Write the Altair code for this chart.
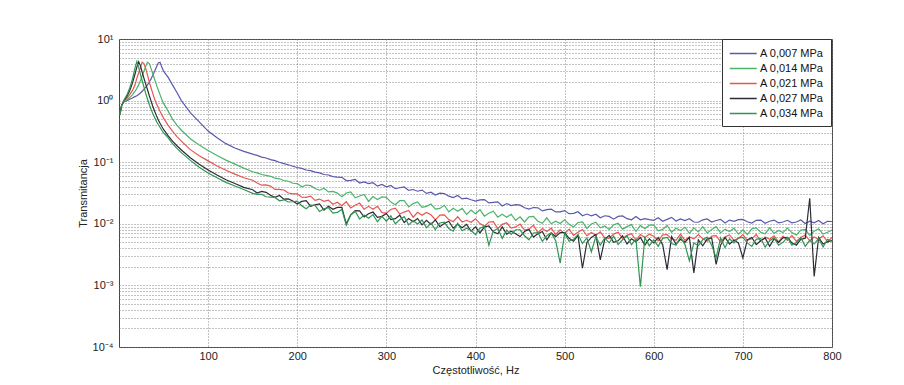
import altair as alt
import pandas as pd

# ---------------- data ----------------
LOW_HZ = [1, 3, 6, 9, 12, 15, 18,
          20, 22, 24, 26, 28, 30, 32, 34, 36, 38, 40, 42, 44, 46, 48,
          50, 55, 60, 65, 70,
          80, 90, 100, 110, 120, 130, 140]
TAIL_HZ = list(range(150, 801, 5))
HZ = LOW_HZ + TAIL_HZ

SERIES = ["A 0,007 MPa", "A 0,014 MPa", "A 0,021 MPa", "A 0,027 MPa", "A 0,034 MPa"]
COLORS = ["#5b58ad", "#4cb36a", "#e6564e", "#2c2c38", "#2f9652"]

T_007 = [0.62, 0.85, 0.97, 1.0, 1.05, 1.1, 1.16,
         1.2, 1.26, 1.33, 1.42, 1.52, 1.65, 1.8, 2.0, 2.25, 2.6, 3.0, 3.5, 4.1, 4.2, 3.5,
         3.0, 2.4, 1.8, 1.35, 1.0,
         0.64, 0.45, 0.32, 0.25, 0.2, 0.17, 0.15,
         0.135, 0.129, 0.121, 0.117, 0.110, 0.106, 0.100, 0.095, 0.091, 0.086,
         0.082, 0.0795, 0.0748, 0.0728, 0.0690, 0.0670, 0.0632, 0.0620, 0.0582, 0.0571,
         0.0567, 0.0504, 0.0506, 0.0527, 0.0460, 0.0480, 0.0449, 0.0464, 0.0408, 0.0435,
         0.0398, 0.0420, 0.0371, 0.0385, 0.0397, 0.0348, 0.0360, 0.0338, 0.0353, 0.0312,
         0.0326, 0.0293, 0.0315, 0.0310, 0.0281, 0.0266, 0.0288, 0.0254, 0.0261, 0.0246,
         0.0233, 0.0244, 0.0247, 0.0218, 0.0223, 0.0227, 0.0195, 0.0213, 0.0198, 0.0205,
         0.0201, 0.0182, 0.0173, 0.0184, 0.0182, 0.0162, 0.0170, 0.0173, 0.0156, 0.0156,
         0.0164, 0.0146, 0.0148, 0.0157, 0.0135, 0.0144, 0.0135, 0.0143, 0.0125, 0.0135,
         0.0132, 0.0119, 0.0132, 0.0134, 0.0121, 0.0116, 0.0131, 0.0116, 0.0121, 0.0117,
         0.0114, 0.0125, 0.0110, 0.0118, 0.0127, 0.0111, 0.0120, 0.0113, 0.0121, 0.0107,
         0.0106, 0.0116, 0.0120, 0.0107, 0.0113, 0.0118, 0.0103, 0.0115, 0.0110, 0.0117,
         0.0118, 0.0108, 0.0103, 0.0114, 0.0115, 0.0102, 0.0110, 0.0115, 0.0104, 0.0107,
         0.0114, 0.0104, 0.0107, 0.0115, 0.0101, 0.0110, 0.0104, 0.0113, 0.0100, 0.0110,
         0.0109]

T_014 = [0.6, 0.84, 0.97, 1.03, 1.12, 1.24, 1.42,
         1.58, 1.8, 2.1, 2.5, 3.0, 3.6, 4.2, 4.0, 3.3, 2.7, 2.2, 1.8, 1.5, 1.25, 1.05,
         0.9, 0.68, 0.5, 0.4, 0.33,
         0.24, 0.19, 0.155, 0.128, 0.108, 0.093, 0.08,
         0.0700, 0.0672, 0.0632, 0.0613, 0.0590, 0.0550, 0.0538, 0.0505, 0.0490, 0.0455,
         0.0449, 0.0400, 0.0426, 0.0416, 0.0374, 0.0351, 0.0378, 0.0330, 0.0335, 0.0315,
         0.0276, 0.0317, 0.0330, 0.0264, 0.0283, 0.0300, 0.0231, 0.0277, 0.0248, 0.0273,
         0.0269, 0.0225, 0.0204, 0.0237, 0.0237, 0.0188, 0.0213, 0.0226, 0.0185, 0.0192,
         0.0209, 0.0173, 0.0178, 0.0200, 0.0156, 0.0179, 0.0160, 0.0178, 0.0142, 0.0167,
         0.0146, 0.0169, 0.0133, 0.0148, 0.0160, 0.0128, 0.0143, 0.0128, 0.0143, 0.0114,
         0.0130, 0.0107, 0.0130, 0.0132, 0.0110, 0.0102, 0.0125, 0.0100, 0.0110, 0.0101,
         0.0116, 0.0098, 0.0089, 0.0105, 0.0107, 0.0084, 0.0099, 0.0106, 0.0086, 0.0092,
         0.0081, 0.0096, 0.0102, 0.0082, 0.0090, 0.0097, 0.0075, 0.0094, 0.0083, 0.0095,
         0.0096, 0.0077, 0.0081, 0.0094, 0.0073, 0.0085, 0.0078, 0.0088, 0.0070, 0.0086,
         0.0074, 0.0090, 0.0071, 0.0081, 0.0090, 0.0071, 0.0082, 0.0075, 0.0085, 0.0068,
         0.0080, 0.0067, 0.0083, 0.0086, 0.0073, 0.0069, 0.0086, 0.0070, 0.0078, 0.0072,
         0.0085, 0.0072, 0.0066, 0.0079, 0.0081, 0.0065, 0.0076, 0.0083, 0.0068, 0.0073,
         0.0079]

T_021 = [0.6, 0.84, 1.0, 1.1, 1.25, 1.45, 1.8,
         2.3, 2.8, 3.4, 4.2, 4.0, 3.3, 2.6, 2.0, 1.6, 1.3, 1.05, 0.9, 0.77, 0.67, 0.59,
         0.52, 0.4, 0.32, 0.26, 0.22,
         0.16, 0.127, 0.105, 0.087, 0.074, 0.064, 0.056,
         0.0510, 0.0460, 0.0423, 0.0427, 0.0409, 0.0362, 0.0362, 0.0354, 0.0316, 0.0306,
         0.0307, 0.0270, 0.0269, 0.0281, 0.0240, 0.0252, 0.0232, 0.0243, 0.0208, 0.0224,
         0.0197, 0.0228, 0.0181, 0.0200, 0.0217, 0.0172, 0.0192, 0.0172, 0.0193, 0.0152,
         0.0149, 0.0171, 0.0179, 0.0144, 0.0155, 0.0165, 0.0128, 0.0154, 0.0138, 0.0153,
         0.0140, 0.0116, 0.0138, 0.0140, 0.0117, 0.0108, 0.0131, 0.0107, 0.0114, 0.0106,
         0.0121, 0.0101, 0.0091, 0.0107, 0.0108, 0.0084, 0.0098, 0.0104, 0.0085, 0.0089,
         0.0099, 0.0079, 0.0082, 0.0095, 0.0072, 0.0084, 0.0075, 0.0085, 0.0067, 0.0080,
         0.0069, 0.0082, 0.0065, 0.0073, 0.0081, 0.0064, 0.0072, 0.0065, 0.0074, 0.0059,
         0.0058, 0.0068, 0.0073, 0.0058, 0.0065, 0.0069, 0.0054, 0.0067, 0.0060, 0.0068,
         0.0063, 0.0053, 0.0066, 0.0067, 0.0057, 0.0054, 0.0068, 0.0054, 0.0061, 0.0057,
         0.0067, 0.0057, 0.0052, 0.0063, 0.0064, 0.0051, 0.0061, 0.0066, 0.0054, 0.0058,
         0.0067, 0.0054, 0.0057, 0.0067, 0.0052, 0.0061, 0.0056, 0.0064, 0.0051, 0.0063,
         0.0054, 0.0065, 0.0052, 0.0060, 0.0066, 0.0053, 0.0061, 0.0056, 0.0064, 0.0051,
         0.0060]

T_027 = [0.6, 0.84, 1.02, 1.18, 1.45, 1.9, 2.7,
         3.5, 4.3, 3.7, 2.9, 2.3, 1.85, 1.5, 1.2, 0.98, 0.8, 0.67, 0.57, 0.49, 0.43, 0.38,
         0.34, 0.27, 0.22, 0.185, 0.158,
         0.118, 0.093, 0.075, 0.062, 0.052, 0.045, 0.039,
         0.0357, 0.0316, 0.0335, 0.0324, 0.0290, 0.0270, 0.0288, 0.0251, 0.0253, 0.0235,
         0.0209, 0.0231, 0.0237, 0.0193, 0.0203, 0.0211, 0.0167, 0.0193, 0.0172, 0.0185,
         0.0185, 0.0100, 0.0140, 0.0163, 0.0162, 0.0129, 0.0146, 0.0155, 0.0127, 0.0132,
         0.0147, 0.0117, 0.0121, 0.0138, 0.0105, 0.0122, 0.0108, 0.0122, 0.0096, 0.0114,
         0.0098, 0.0116, 0.0090, 0.0101, 0.0110, 0.0085, 0.0098, 0.0086, 0.0098, 0.0076,
         0.0089, 0.0071, 0.0089, 0.0092, 0.0074, 0.0069, 0.0089, 0.0068, 0.0076, 0.0069,
         0.0062, 0.0075, 0.0081, 0.0061, 0.0069, 0.0075, 0.0055, 0.0071, 0.0062, 0.0072,
         0.0072, 0.0058, 0.0052, 0.0065, 0.0019, 0.0050, 0.0060, 0.0067, 0.0026, 0.0056,
         0.0065, 0.0050, 0.0053, 0.0064, 0.0047, 0.0057, 0.0051, 0.0060, 0.0045, 0.0057,
         0.0049, 0.0060, 0.0046, 0.0018, 0.0062, 0.0047, 0.0056, 0.0050, 0.0060, 0.0016,
         0.0055, 0.0044, 0.0057, 0.0059, 0.0022, 0.0045, 0.0060, 0.0047, 0.0054, 0.0049,
         0.0028, 0.0055, 0.0060, 0.0046, 0.0053, 0.0059, 0.0043, 0.0057, 0.0050, 0.0059,
         0.0060, 0.0049, 0.0045, 0.0056, 0.0058, 0.0260, 0.0014, 0.0060, 0.0047, 0.0051,
         0.0054]

T_034 = [0.58, 0.83, 1.04, 1.25, 1.6, 2.2, 3.4,
         4.3, 3.5, 2.7, 2.1, 1.65, 1.3, 1.05, 0.86, 0.72, 0.61, 0.53, 0.46, 0.41, 0.37, 0.33,
         0.3, 0.25, 0.2, 0.168, 0.143,
         0.107, 0.083, 0.067, 0.056, 0.047, 0.041, 0.036,
         0.0312, 0.0300, 0.0301, 0.0275, 0.0272, 0.0268, 0.0236, 0.0245, 0.0226, 0.0228,
         0.0233, 0.0197, 0.0176, 0.0201, 0.0199, 0.0158, 0.0175, 0.0183, 0.0149, 0.0153,
         0.0171, 0.0095, 0.0139, 0.0160, 0.0119, 0.0139, 0.0123, 0.0141, 0.0108, 0.0132,
         0.0110, 0.0135, 0.0100, 0.0116, 0.0131, 0.0096, 0.0112, 0.0099, 0.0115, 0.0086,
         0.0103, 0.0080, 0.0103, 0.0106, 0.0084, 0.0076, 0.0102, 0.0077, 0.0085, 0.0078,
         0.0067, 0.0085, 0.0091, 0.0045, 0.0077, 0.0084, 0.0058, 0.0079, 0.0067, 0.0080,
         0.0080, 0.0064, 0.0055, 0.0071, 0.0072, 0.0052, 0.0064, 0.0071, 0.0053, 0.0023,
         0.0070, 0.0052, 0.0056, 0.0067, 0.0048, 0.0059, 0.0035, 0.0062, 0.0045, 0.0059,
         0.0049, 0.0063, 0.0046, 0.0055, 0.0064, 0.0046, 0.0056, 0.00095, 0.0060, 0.0044,
         0.0055, 0.0043, 0.0058, 0.0060, 0.0048, 0.0045, 0.0061, 0.0046, 0.0025, 0.0049,
         0.0044, 0.0055, 0.0061, 0.0045, 0.0028, 0.0059, 0.0041, 0.0057, 0.0049, 0.0059,
         0.0060, 0.0049, 0.0043, 0.0056, 0.0058, 0.0042, 0.0053, 0.0059, 0.0045, 0.0050,
         0.0060, 0.0045, 0.0049, 0.0060, 0.0043, 0.0054, 0.0047, 0.0058, 0.0042, 0.0056,
         0.0052]

X_TICKS = [100, 200, 300, 400, 500, 600, 700, 800]
Y_TICKS = [m * 10.0 ** e for e in range(-4, 1) for m in range(1, 10)] + [10.0]

# ---------------- table ----------------
rows = []
for name, vals in zip(SERIES, [T_007, T_014, T_021, T_027, T_034]):
    for f, v in zip(HZ, vals):
        rows.append({"Hz": f, "T": v, "series": name})
df = pd.DataFrame(rows)

E = "round(log(datum.value)/LN10)"
label_expr = (
    f"abs(log(datum.value)/LN10 - {E}) > 0.01 ? '' : "
    f"{E} == 1 ? '10¹' : {E} == 0 ? '10⁰' : {E} == -1 ? '10⁻¹' : "
    f"{E} == -2 ? '10⁻²' : {E} == -3 ? '10⁻³' : '10⁻⁴'"
)

FONT = "Arial, 'Liberation Sans', sans-serif"

chart = (
    alt.Chart(df)
    .mark_line(strokeWidth=1.2, clip=True)
    .encode(
        x=alt.X(
            "Hz:Q",
            scale=alt.Scale(domain=[0, 800], nice=False, zero=False),
            axis=alt.Axis(
                values=X_TICKS,
                title="Częstotliwość, Hz",
                labelFlush=False,
                labelPadding=3,
                titlePadding=3,
            ),
        ),
        y=alt.Y(
            "T:Q",
            scale=alt.Scale(type="log", domain=[0.0001, 10], nice=False),
            axis=alt.Axis(
                values=Y_TICKS,
                labelExpr=label_expr,
                title="Transmitancja",
                labelFlush=False,
                labelOverlap=False,
                labelPadding=6,
                titlePadding=4,
            ),
        ),
        color=alt.Color(
            "series:N",
            scale=alt.Scale(domain=SERIES, range=COLORS),
            legend=alt.Legend(
                orient="none",
                legendX=603,
                legendY=0,
                title=None,
                symbolType="M-1,0H3",
                symbolSize=182,
                symbolStrokeWidth=1.5,
                labelFontSize=11,
                labelFont=FONT,
                labelColor="#111",
                labelOffset=16,
                fillColor="white",
                strokeColor="#333",
                padding=7,
                rowPadding=2,
            ),
        ),
        detail="series:N",
    )
    .properties(
        width=713,
        height=308,
        autosize=alt.AutoSizeParams(type="none"),
        padding={"left": 111, "top": 31, "right": 64, "bottom": 30},
        background="white",
    )
    .configure_view(stroke="#444", strokeWidth=1)
    .configure_axis(
        grid=True,
        gridColor="#7a7a7a",
        gridDash=[1, 2],
        gridWidth=1,
        gridOpacity=0.9,
        ticks=False,
        domain=False,
        labelFont=FONT,
        labelFontSize=11,
        labelColor="#222",
        titleFont=FONT,
        titleFontSize=11,
        titleFontWeight="normal",
        titleColor="#222",
    )
)

chart.save("out.html", embed_options={"renderer": "svg", "actions": False})
